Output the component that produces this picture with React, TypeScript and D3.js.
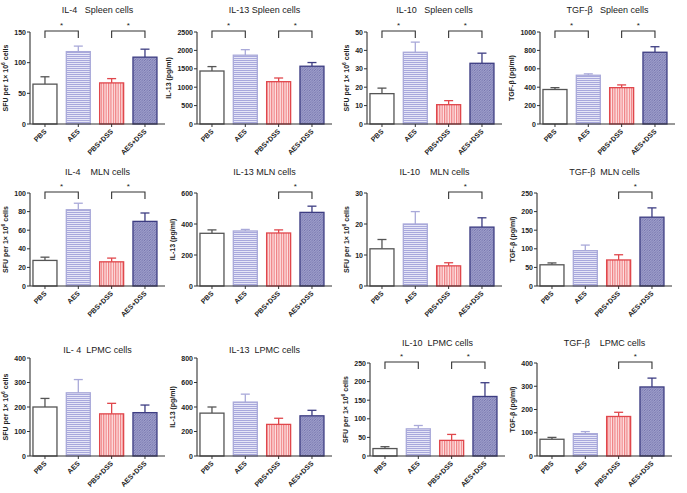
import React from "react";
import * as d3 from "d3";

const groups = ["PBS", "AES", "PBS+DSS", "AES+DSS"];

const titles = [
  "IL-4   Spleen cells", "IL-13 Spleen cells", "IL-10   Spleen cells", "TGF-β   Spleen cells",
  "IL-4    MLN cells", "IL-13 MLN cells", "IL-10    MLN cells", "TGF-β  MLN cells",
  "IL- 4  LPMC cells", "IL-13  LPMC cells", "IL-10  LPMC cells", "TGF-β    LPMC cells",
];

const yLabelsByCol = ["SFU", "IL-13 (pg/ml)", "SFU", "TGF-β (pg/ml)"];
const yMaxes = [150, 2500, 50, 1000, 100, 600, 30, 250, 400, 800, 250, 400];
const ySteps = [50, 500, 10, 200, 20, 200, 10, 50, 100, 200, 50, 100];

const il4Spleen = [65, 118, 67, 109];
const il4SpleenErr = [12, 9, 7, 13];
const il13Spleen = [1440, 1870, 1150, 1570];
const il13SpleenErr = [120, 150, 100, 100];
const il10Spleen = [16.5, 39, 10.5, 33];
const il10SpleenErr = [3, 5.5, 2.2, 5.5];
const tgfSpleen = [375, 530, 395, 780];
const tgfSpleenErr = [20, 15, 30, 60];
const il4Mln = [27.5, 82, 26, 69.5];
const il4MlnErr = [3.5, 7, 4, 9];
const il13Mln = [340, 355, 342, 475];
const il13MlnErr = [22, 10, 20, 40];
const il10Mln = [12, 20, 6.5, 19];
const il10MlnErr = [3, 4, 1, 3];
const tgfMln = [57, 95, 70, 185];
const tgfMlnErr = [5, 15, 14, 25];
const il4Lpmc = [200, 258, 172, 177];
const il4LpmcErr = [35, 54, 43, 31];
const il13Lpmc = [350, 440, 258, 328];
const il13LpmcErr = [50, 65, 50, 45];
const il10Lpmc = [20, 73, 42, 160];
const il10LpmcErr = [5, 9, 16, 37];
const tgfLpmc = [72, 96, 170, 297];
const tgfLpmcErr = [8, 9, 18, 38];

const means = [il4Spleen, il13Spleen, il10Spleen, tgfSpleen, il4Mln, il13Mln, il10Mln, tgfMln, il4Lpmc, il13Lpmc, il10Lpmc, tgfLpmc];
const errs = [il4SpleenErr, il13SpleenErr, il10SpleenErr, tgfSpleenErr, il4MlnErr, il13MlnErr, il10MlnErr, tgfMlnErr, il4LpmcErr, il13LpmcErr, il10LpmcErr, tgfLpmcErr];

// significance pairs (group indices)
const sigPairs: number[][][] = [
  [[0, 1], [2, 3]], [[0, 1], [2, 3]], [[0, 1], [2, 3]], [[0, 1], [2, 3]],
  [[0, 1], [2, 3]], [[2, 3]], [[2, 3]], [[2, 3]],
  [], [], [[0, 1], [2, 3]], [[2, 3]],
];

// layout
const colX = [30, 197, 367, 540];
const rowTop = [32, 193, 360];
const rowBottom = [124, 286, 456];
const rowTitleY = [13, 175, 353];
const axisLen = 135;

const strokeCols = ["#555555", "#a9a9d9", "#e0474c", "#3d3d82"];
const fills = ["#ffffff", "url(#pHoriz)", "url(#pVert)", "url(#pDiag)"];
const font = "'Liberation Sans', Arial, sans-serif";

function Panel({ i }: { i: number }) {
  const row = Math.floor(i / 4);
  const col = i % 4;
  const x0 = colX[col] + (row === 2 && col === 2 ? 3 : 0) - (row > 0 && col === 3 ? 3 : 0);
  const x1 = x0 + axisLen;
  const top = rowTop[row] + (row === 2 && col >= 2 ? 3 : 0) - (row === 2 && col < 2 ? 2 : 0);
  const bottom = rowBottom[row];
  const titleY = rowTitleY[row] - (row === 2 && col >= 2 ? 7 : 0);
  const y = d3.scaleLinear().domain([0, yMaxes[i]]).range([bottom, top]);
  const x = d3.scaleBand<string>().domain(groups).range([x0, x1]).paddingInner(0.28).paddingOuter(0.165).align(0.27);
  const ticks = d3.range(0, yMaxes[i] + ySteps[i] / 2, ySteps[i]);
  const maxChars = d3.max(ticks, (t) => String(t).length) as number;
  const yLabX = x0 - 10 - maxChars * 3.9;
  const bw = x.bandwidth();
  const isSfu = yLabelsByCol[col] === "SFU";
  const cx = (g: string) => (x(g) as number) + bw / 2;
  return (
    <g>
      <text x={(x0 + x1) / 2} y={titleY} textAnchor="middle" fontSize={9} fill="#222" style={{ whiteSpace: "pre" }}>
        {titles[i]}
      </text>
      {/* bars */}
      {groups.map((g, k) => {
        const v = means[i][k];
        const e = errs[i][k];
        const bx = x(g) as number;
        const c = cx(g);
        return (
          <g key={g}>
            <line x1={c} x2={c} y1={y(v)} y2={y(v + e)} stroke={strokeCols[k]} strokeWidth={1.3} />
            <line x1={c - 4.5} x2={c + 4.5} y1={y(v + e)} y2={y(v + e)} stroke={strokeCols[k]} strokeWidth={1.3} />
            <rect x={bx} y={y(v)} width={bw} height={bottom - y(v)} fill={fills[k]} stroke={strokeCols[k]} strokeWidth={1.3} />
          </g>
        );
      })}
      {/* axes */}
      <line x1={x0} x2={x0} y1={top} y2={bottom} stroke="#333" strokeWidth={1.1} />
      <line x1={x0} x2={x1} y1={bottom} y2={bottom} stroke="#333" strokeWidth={1.1} />
      {ticks.map((t) => (
        <g key={t}>
          <line x1={x0 - 3} x2={x0} y1={y(t)} y2={y(t)} stroke="#333" strokeWidth={1} />
          <text x={x0 - 4} y={y(t) + 2.5} textAnchor="end" fontSize={7} fontWeight="bold" fill="#222">{t}</text>
        </g>
      ))}
      {groups.map((g) => (
        <g key={g}>
          <line x1={cx(g)} x2={cx(g)} y1={bottom} y2={bottom + 3} stroke="#333" strokeWidth={1} />
          <text transform={`translate(${cx(g) + 2},${bottom + 8}) rotate(-45)`} textAnchor="end" fontSize={7} fontWeight="bold" fill="#222">{g}</text>
        </g>
      ))}
      <text transform={`translate(${yLabX},${(top + bottom) / 2}) rotate(-90)`} textAnchor="middle" fontSize={7} fontWeight="bold" fill="#222">
        {isSfu ? (
          <>
            SFU per 1× 10<tspan dy={-3} fontSize={5}>6</tspan><tspan dy={3}> cells</tspan>
          </>
        ) : (
          yLabelsByCol[col]
        )}
      </text>
      {/* significance */}
      {sigPairs[i].map(([a, b]) => {
        const xa = cx(groups[a]);
        const xb = cx(groups[b]);
        const by = top - 1;
        return (
          <g key={`${a}-${b}`}>
            <path d={`M${xa},${by + 7}V${by}H${xb}V${by + 7}`} fill="none" stroke="#333" strokeWidth={1.1} />
            <text x={(xa + xb) / 2} y={by - 3} textAnchor="middle" fontSize={8} fill="#222">*</text>
          </g>
        );
      })}
    </g>
  );
}

export default function App() {
  return (
    <svg width={687} height={493} style={{ position: "absolute", left: 0, top: 0, background: "#fff", fontFamily: font }}>
      <defs>
        <pattern id="pHoriz" width={4} height={2} patternUnits="userSpaceOnUse">
          <rect width={4} height={2} fill="#e6e6f7" />
          <line x1={0} x2={4} y1={0.5} y2={0.5} stroke="#a8a8dc" strokeWidth={1} />
        </pattern>
        <pattern id="pVert" width={2.4} height={4} patternUnits="userSpaceOnUse">
          <rect width={2.4} height={4} fill="#fde4e4" />
          <line x1={0.6} x2={0.6} y1={0} y2={4} stroke="#ee6e72" strokeWidth={1} />
        </pattern>
        <pattern id="pDiag" width={2.5} height={2.5} patternUnits="userSpaceOnUse">
          <rect width={2.5} height={2.5} fill="#b4b4d8" />
          <path d="M0,2.5L2.5,0" stroke="#6b6ba8" strokeWidth={0.9} />
          <path d="M0,0L2.5,2.5" stroke="#8d8dc0" strokeWidth={0.5} />
        </pattern>
      </defs>
      {d3.range(12).map((i) => (
        <Panel key={i} i={i} />
      ))}
    </svg>
  );
}
